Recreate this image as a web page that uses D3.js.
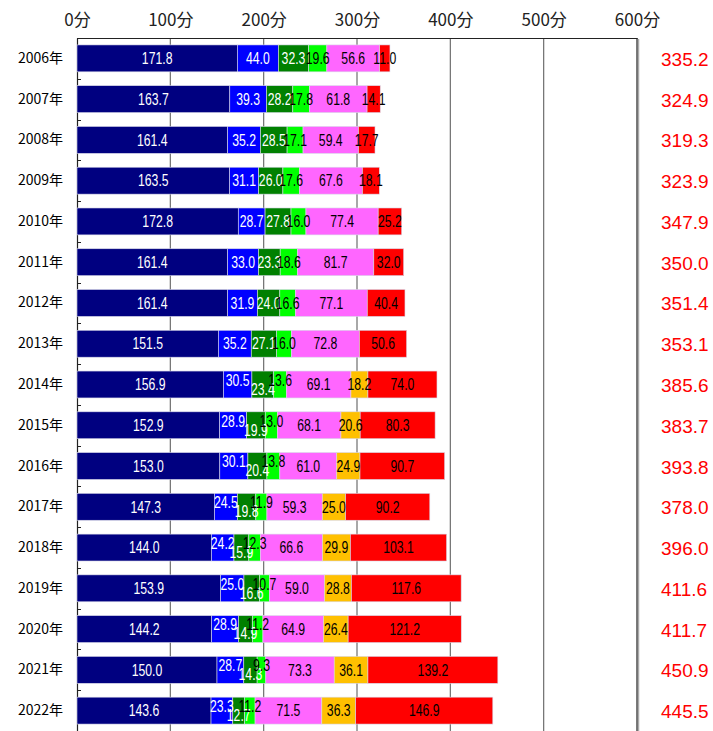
<!DOCTYPE html>
<html><head><meta charset="utf-8">
<script src="https://cdn.jsdelivr.net/npm/d3@7"></script>
<style>body{margin:0;background:#fff}</style>
</head><body>
<svg id="c" width="713" height="731"></svg>
<script>
const years = ["2006年","2007年","2008年","2009年","2010年","2011年","2012年","2013年","2014年","2015年","2016年","2017年","2018年","2019年","2020年","2021年","2022年"];
const s1 = [171.8,163.7,161.4,163.5,172.8,161.4,161.4,151.5,156.9,152.9,153.0,147.3,144.0,153.9,144.2,150.0,143.6];
const s2 = [44.0,39.3,35.2,31.1,28.7,33.0,31.9,35.2,30.5,28.9,30.1,24.5,24.2,25.0,28.9,28.7,23.3];
const s3 = [32.3,28.2,28.5,26.0,27.8,23.3,24.0,27.1,23.4,19.9,20.4,19.8,15.9,16.6,14.9,14.3,12.7];
const s4 = [19.6,17.8,17.1,17.6,16.0,18.6,16.6,16.0,13.6,13.0,13.8,11.9,12.3,10.7,11.2,9.3,11.2];
const s5 = [56.6,61.8,59.4,67.6,77.4,81.7,77.1,72.8,69.1,68.1,61.0,59.3,66.6,59.0,64.9,73.3,71.5];
const s6 = [null,null,null,null,null,null,null,null,18.2,20.6,24.9,25.0,29.9,28.8,26.4,36.1,36.3];
const s7 = [11.0,14.1,17.7,18.1,25.2,32.0,40.4,50.6,74.0,80.3,90.7,90.2,103.1,117.6,121.2,139.2,146.9];
const totals = [335.2,324.9,319.3,323.9,347.9,350.0,351.4,353.1,385.6,383.7,393.8,378.0,396.0,411.6,411.7,450.9,445.5];
const xTicks = [0,100,200,300,400,500,600];
const staggeredYears = ["2014年","2015年","2016年","2017年","2018年","2019年","2020年","2021年","2022年"];

const series = [s1,s2,s3,s4,s5,s6,s7];
const colors = ["#000080","#0000FF","#008000","#00FF00","#FF66FF","#FFC000","#FF0000"];
const labelColors = ["#fff","#fff","#fff","#000","#000","#000","#000"];
const labelShift = [0,-4.5,4.5,-4.5,0,0,0]; // used only on staggered rows

const svg = d3.select("#c");
const L = 77, R = 637, T = 38, B = 731;
const x = d3.scaleLinear().domain([0,600]).range([L,R]);
const y = d3.scaleBand().domain(years).range([T,B]).paddingInner(0.34).paddingOuter(0.17);

// gridlines
svg.append("g").selectAll("line").data(xTicks.slice(1,-1)).join("line")
  .attr("x1",d=>x(d)).attr("x2",d=>x(d)).attr("y1",T).attr("y2",B)
  .attr("stroke","#6e6e6e").attr("stroke-width",1.2);

// right border shadow + border
svg.append("line").attr("x1",R+1.5).attr("x2",R+1.5).attr("y1",T+1).attr("y2",B).attr("stroke","#aaa").attr("stroke-width",1.5);
svg.append("line").attr("x1",R).attr("x2",R).attr("y1",T).attr("y2",B).attr("stroke","#222").attr("stroke-width",1.2);

// top axis
const xAxis = d3.axisTop(x).tickValues(xTicks).tickFormat(d=>d+"分").tickSize(0).tickPadding(12);
const gx = svg.append("g").attr("transform",`translate(0,${T})`).call(xAxis);
gx.select(".domain").attr("stroke","#222").attr("stroke-width",1.2);
gx.selectAll("text").attr("font-family","'Noto Sans CJK JP',sans-serif").attr("font-size",17).attr("fill","#222");

// left axis
const yAxis = d3.axisLeft(y).tickSize(0).tickPadding(14);
const gy = svg.append("g").attr("transform",`translate(${L},0)`).call(yAxis);
gy.select(".domain").attr("stroke","#222").attr("stroke-width",1.2);
gy.selectAll("text").attr("font-family","'Noto Sans CJK JP',sans-serif").attr("font-size",14).attr("fill","#000");
// category boundary ticks pointing inward
svg.append("g").selectAll("path").data(years.slice(1)).join("path")
  .attr("d",d=>{const yy=Math.round(y(d)-y.step()*y.paddingInner()/2)+0.5;return `M${L},${yy}H${L+4}`;})
  .attr("stroke","#222").attr("stroke-width",1);
svg.append("path").attr("d",`M${L+0.5},${T}V${T+5}`).attr("stroke","#222");

// stacked data
const rows = years.map((yr,i)=>{
  let acc=0; const segs=[];
  series.forEach((s,k)=>{const v=s[i]; if(v!=null){segs.push({yr,k,v,x0:acc,x1:acc+v}); acc+=v;}});
  return segs;
});
const segs = rows.flat();

svg.append("g").selectAll("rect").data(segs).join("rect")
  .attr("x",d=>x(d.x0)).attr("width",d=>x(d.x1)-x(d.x0))
  .attr("y",d=>y(d.yr)).attr("height",y.bandwidth())
  .attr("fill",d=>colors[d.k]).attr("stroke","#d8d8e8").attr("stroke-width",0.6);

svg.append("g").selectAll("text").data(segs).join("text")
  .attr("transform",d=>{
    const cx=(x(d.x0)+x(d.x1))/2;
    const cy=y(d.yr)+y.bandwidth()/2+(staggeredYears.includes(d.yr)?labelShift[d.k]:0);
    return `translate(${cx},${cy}) scale(0.72,1)`;})
  .attr("text-anchor","middle").attr("dominant-baseline","central")
  .attr("font-family","'Liberation Sans',Arial,sans-serif")
  .attr("font-size",17).attr("fill",d=>labelColors[d.k])
  .text(d=>d.v.toFixed(1));

// totals
svg.append("g").selectAll("text").data(years).join("text")
  .attr("x",661).attr("y",d=>y(d)+y.bandwidth()/2+1)
  .attr("dominant-baseline","central")
  .attr("font-family","Arial,'Liberation Sans',sans-serif").attr("font-size",19).attr("fill","#FF0000")
  .text((d,i)=>totals[i].toFixed(1));
</script>
</body></html>
